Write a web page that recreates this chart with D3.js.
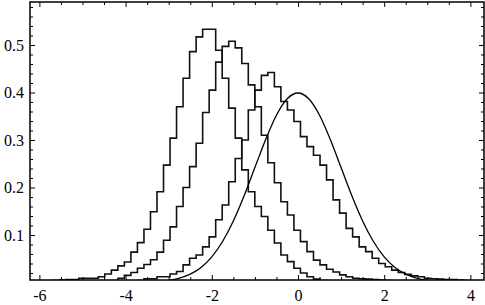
<!DOCTYPE html>
<html>
<head>
<meta charset="utf-8">
<script src="https://cdn.jsdelivr.net/npm/d3@7"></script>
<style>
  html, body { margin: 0; padding: 0; background: #fff; }
  svg { display: block; }
  svg .tick text { font-family: "Liberation Serif", "DejaVu Serif", "Times New Roman", serif; font-size: 16px; }
</style>
</head>
<body>
<div id="chart"></div>
<script>
// shared bin grid of the three histograms (x units)
const binStart = -4.633;
const binWidth = 0.1513;

// each histogram: index of its first bin on the grid, then bin heights
const hist1From = -7;
const hist1 = [0.004, 0.005, 0.006, 0.006, 0.009, 0.009, 0.009, 0.012, 0.018, 0.026,
  0.035, 0.043, 0.064, 0.084, 0.112, 0.149, 0.191, 0.247, 0.304, 0.370,
  0.430, 0.486, 0.517, 0.533, 0.533, 0.489, 0.430, 0.367, 0.304, 0.237,
  0.191, 0.160, 0.139, 0.110, 0.083, 0.058, 0.044, 0.030, 0.020, 0.012,
  0.007, 0.004];

const hist2From = 2;
const hist2 = [0.004, 0.009, 0.015, 0.021, 0.030, 0.038, 0.048, 0.064, 0.089, 0.117,
  0.160, 0.200, 0.244, 0.293, 0.358, 0.405, 0.464, 0.497, 0.508, 0.494,
  0.461, 0.416, 0.370, 0.310, 0.252, 0.210, 0.170, 0.142, 0.110, 0.086,
  0.065, 0.047, 0.037, 0.028, 0.022, 0.016, 0.012, 0.009, 0.008, 0.007,
  0.006, 0.005, 0.004];

const hist3From = 6;
const hist3 = [0.004, 0.008, 0.008, 0.012, 0.012, 0.018, 0.023, 0.037, 0.051, 0.058,
  0.075, 0.096, 0.132, 0.163, 0.212, 0.261, 0.300, 0.363, 0.405, 0.436,
  0.442, 0.412, 0.381, 0.363, 0.339, 0.307, 0.286, 0.268, 0.247, 0.216,
  0.174, 0.146, 0.114, 0.096, 0.075, 0.065, 0.051, 0.040, 0.033, 0.026,
  0.021, 0.017, 0.014, 0.012, 0.009, 0.008, 0.007, 0.006, 0.006, 0.005,
  0.004];

// smooth reference curve, sampled every 0.25
const curveX = [-3.5, -3.25, -3, -2.75, -2.5, -2.25, -2, -1.75, -1.5, -1.25, -1, -0.75, -0.5, -0.25,
  0, 0.25, 0.5, 0.75, 1, 1.25, 1.5, 1.75, 2, 2.25, 2.5, 2.75, 3, 3.25, 3.5];
const curveY = [0.001, 0.002, 0.0044, 0.0091, 0.0175, 0.0317, 0.054, 0.0863, 0.1295, 0.1826, 0.242, 0.3011, 0.3521, 0.3867,
  0.3989, 0.3867, 0.3521, 0.3011, 0.242, 0.1826, 0.1295, 0.0863, 0.054, 0.0317, 0.0175, 0.0091, 0.0044, 0.002, 0.001];

const xTicks = [-6, -4, -2, 0, 2, 4];
const yTicks = [0.1, 0.2, 0.3, 0.4, 0.5];

const ChartModule = (() => {

  const W = 485, H = 305;
  const frame = { left: 30, right: 484, top: 2, bottom: 280 };

  function render() {
    const svg = d3.select('#chart').append('svg')
      .attr('width', W).attr('height', H);

    const x = d3.scaleLinear().domain([-6.218, 4.316]).range([frame.left, frame.right]);
    const y = d3.scaleLinear().domain([0.00526, 0.5905]).range([frame.bottom, frame.top]);

    svg.append('defs').append('clipPath').attr('id', 'plot-clip')
      .append('rect')
      .attr('x', frame.left).attr('y', frame.top)
      .attr('width', frame.right - frame.left).attr('height', frame.bottom - frame.top);

    const plot = svg.append('g').attr('clip-path', 'url(#plot-clip)');

    // histogram outlines (step from baseline up and back down)
    const step = d3.line().x(d => x(d[0])).y(d => y(d[1])).curve(d3.curveStepAfter);
    [[hist1From, hist1], [hist2From, hist2], [hist3From, hist3]].forEach(([from, vals]) => {
      const e0 = binStart + from * binWidth;
      const pts = [[e0, 0]];
      vals.forEach((v, i) => pts.push([e0 + i * binWidth, v]));
      pts.push([e0 + vals.length * binWidth, 0]);
      plot.append('path')
        .attr('d', step(pts))
        .attr('fill', 'none').attr('stroke', '#111').attr('stroke-width', 1.6)
        .attr('stroke-linejoin', 'miter');
    });

    const smooth = d3.line().x(d => x(d[0])).y(d => y(d[1])).curve(d3.curveMonotoneX);
    plot.append('path')
      .attr('d', smooth(curveX.map((v, i) => [v, curveY[i]])))
      .attr('fill', 'none').attr('stroke', '#000').attr('stroke-width', 1.3);

    // frame ticks, all pointing inward
    const xMinor = d3.range(-6, 4.01, 0.5).filter(v => !xTicks.includes(v));
    const yMinor = d3.range(1, 30).map(i => i * 0.02).filter(v => Math.abs(v * 10 - Math.round(v * 10)) > 1e-6);

    const axes = [
      [d3.axisBottom(x), `translate(0,${frame.bottom})`, true],
      [d3.axisTop(x), `translate(0,${frame.top})`, false],
    ];
    axes.forEach(([ax, tr, labels]) => {
      svg.append('g').attr('transform', tr)
        .call(ax.tickValues(xTicks).tickSize(-5).tickPadding(10).tickFormat(labels ? d3.format('d') : ''))
        .call(g => g.select('.domain').remove());
      svg.append('g').attr('transform', tr)
        .call(ax.tickValues(xMinor).tickSize(-3).tickFormat(''))
        .call(g => g.select('.domain').remove());
    });

    const yAxes = [
      [d3.axisLeft(y), `translate(${frame.left},0)`, true],
      [d3.axisRight(y), `translate(${frame.right},0)`, false],
    ];
    yAxes.forEach(([ax, tr, labels]) => {
      svg.append('g').attr('transform', tr)
        .call(ax.tickValues(yTicks).tickSize(-5).tickPadding(6).tickFormat(labels ? d3.format('.1f') : ''))
        .call(g => g.select('.domain').remove());
      svg.append('g').attr('transform', tr)
        .call(ax.tickValues(yMinor).tickSize(-3).tickFormat(''))
        .call(g => g.select('.domain').remove());
    });

    svg.selectAll('.tick line').attr('stroke', '#000').attr('stroke-width', 1);
    svg.selectAll('.tick text').attr('fill', '#000')
      .text(function () { return this.textContent.replace('\u2212', '-'); });

    svg.append('rect')
      .attr('x', frame.left).attr('y', frame.top)
      .attr('width', frame.right - frame.left).attr('height', frame.bottom - frame.top)
      .attr('fill', 'none').attr('stroke', '#000').attr('stroke-width', 1.5);
  }

  return { render };
})();

ChartModule.render();
</script>
</body>
</html>
